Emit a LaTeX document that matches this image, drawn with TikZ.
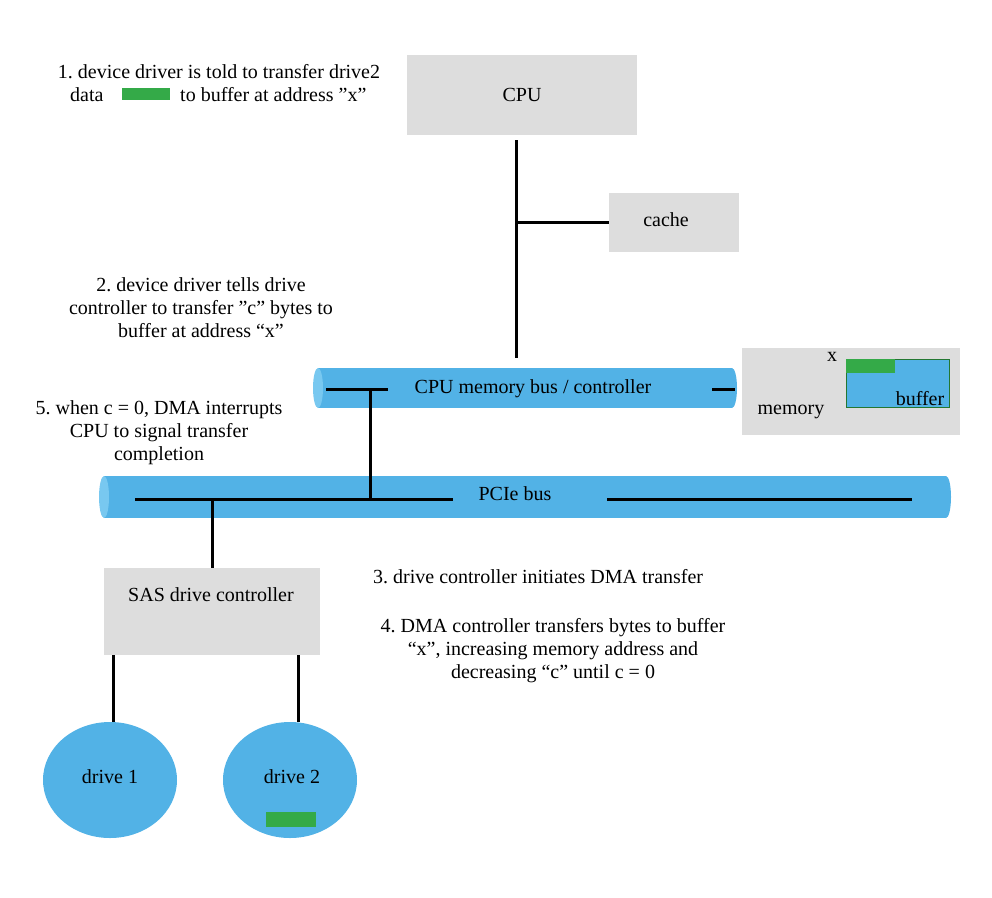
\documentclass[tikz,border=0pt]{standalone}
\usepackage{fontspec}
\setmainfont{Liberation Serif}
\frenchspacing
\begin{document}
\begin{tikzpicture}[x=1pt,y=-1pt,
  ln/.style={line width=3pt,black},
  txt/.style={font=\fontsize{20}{23}\selectfont,align=center,inner sep=0pt}]
\definecolor{boxgray}{RGB}{221,221,221}
\definecolor{busblue}{RGB}{82,178,230}
\definecolor{capblue}{RGB}{120,200,240}
\definecolor{grn}{RGB}{52,170,72}
\useasboundingbox (0,0) rectangle (992,897);
% CPU & cache
\fill[boxgray] (407,55) rectangle (637,135);
\node[txt] (cpu) at (522,95) {CPU};
\coordinate (cpub) at (516,140);
\coordinate (cpubus) at (516,358);
\coordinate (cj) at (516,222);
\fill[boxgray] (609,193) rectangle (739,252);
\node[txt] (cache) at (666,220) {cache};
\coordinate (cachel) at (609,222);
\draw[ln] (cpub) -- (cpubus);
\draw[ln] (cj) -- (cachel);
% CPU memory bus
\fill[busblue] (318,368) rectangle (732,408);
\fill[busblue] (732,388) ellipse (5 and 20);
\fill[capblue] (318,388) ellipse (5 and 20);
\node[txt] (membus) at (533,389) {CPU memory bus / controller};
\coordinate (mb1) at (326,389);
\coordinate (mb2) at (388,389);
\coordinate (mbj) at (370,389);
\coordinate (mb3) at (712,389);
\coordinate (mb4) at (735,389);
\draw[ln] (mb1) -- (mb2);
\draw[ln] (mb3) -- (mb4);
% memory
\fill[boxgray] (742,348) rectangle (960,435);
\fill[busblue,draw=grn!70!black,line width=0.6pt] (846,359) rectangle (949,407);
\fill[grn] (846,359) rectangle (895,373);
\node[txt] (xlab) at (832,357) {x};
\node[txt] (buf) at (920,399) {buffer};
\node[txt] (mem) at (791,412) {memory};
% PCIe
\fill[busblue] (104,476) rectangle (946,518);
\fill[busblue] (946,497) ellipse (5 and 21);
\fill[capblue] (104,497) ellipse (5 and 21);
\node[txt] (pcie) at (515,494) {PCIe bus};
\coordinate (p1) at (135,499);
\coordinate (p2) at (453,499);
\coordinate (pj1) at (370,499);
\coordinate (pj2) at (212,499);
\coordinate (p3) at (607,499);
\coordinate (p4) at (912,499);
\draw[ln] (p1) -- (p2);
\draw[ln] (p3) -- (p4);
\draw[ln] (mbj) -- (pj1);
% SAS
\fill[boxgray] (104,568) rectangle (320,655);
\node[txt] (sas) at (211,595) {SAS drive controller};
\coordinate (sast) at (212,568);
\coordinate (s1) at (113,655);
\coordinate (s2) at (298,655);
\coordinate (d1t) at (113,722);
\coordinate (d2t) at (298,722);
\draw[ln] (pj2) -- (sast);
\draw[ln] (s1) -- (d1t);
\draw[ln] (s2) -- (d2t);
\fill[busblue] (110,780) ellipse (67 and 58);
\fill[busblue] (290,780) ellipse (67 and 58);
\node[txt] (d1) at (110,777) {drive 1};
\node[txt] (d2) at (292,777) {drive 2};
\fill[grn] (266,812) rectangle (316,827);
% annotations
\node[txt] (n1a) at (219,72) {1. device driver is told to transfer drive2};
\node[txt,anchor=west] (n1b) at (70,95) {data};
\fill[grn] (122,88) rectangle (170,100);
\node[txt,anchor=west] (n1c) at (180,95) {to buffer at address ''x''};
\node[txt] (n2) at (201,308) {2. device driver tells drive\\controller to transfer ''c'' bytes to\\buffer at address ``x''};
\node[txt] (n5) at (159,433) {5. when c = 0, DMA interrupts\\CPU to signal transfer\\completion};
\node[txt,anchor=west] (n3) at (373,577) {3. drive controller initiates DMA transfer};
\node[txt] (n4) at (553,651) {4. DMA controller transfers bytes to buffer\\``x'', increasing memory address and\\decreasing ``c'' until c = 0};
\end{tikzpicture}
\end{document}
